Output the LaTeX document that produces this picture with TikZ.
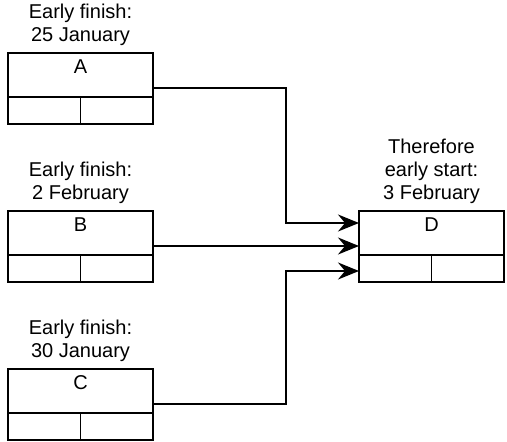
\documentclass[tikz,border=0pt]{standalone}
\usepackage{fontspec}
\setmainfont{Liberation Sans}
\usetikzlibrary{positioning,calc,arrows.meta}

\begin{document}
\begin{tikzpicture}[x=1pt,y=-1pt,
  line width=1.9pt,font=\fontsize{20}{23}\selectfont,
  link/.style={-{Stealth[length=21pt,width=17pt,inset=7pt]}},
  task node/.style={draw,anchor=north west,minimum width=145pt,inner sep=0pt,
    outer sep=0pt,text height=20pt,text depth=24pt},
  cell node/.style={draw,minimum width=72.5pt,minimum height=27pt,inner sep=0pt,
    outer sep=0pt},
  date node/.style={align=center,inner sep=0pt}]

  \useasboundingbox (0,0) rectangle (507,442);

  % activities
  \node[task node] (A) at (8,53) {A};
  \node[task node] (B) at (8,211) {B};
  \node[task node] (C) at (8,369) {C};
  \node[task node] (D) at (359,211) {D};
  \foreach \t in {A,B,C,D}{
    \node[cell node,below right=0pt of \t.south west] (\t1) {};
    \node[cell node,below left=0pt of \t.south east] (\t2) {};
  }

  % dates
  \node[date node,above=6pt of A.north] (la) {Early finish:\\25 January};
  \node[date node,above=6pt of B.north] (lb) {Early finish:\\2 February};
  \node[date node,above=6pt of C.north] (lc) {Early finish:\\30 January};
  \node[date node,above=6pt of D.north] (ld) {Therefore\\early start:\\3 February};

  % links
  \coordinate (bend) at (286,0);
  \coordinate (Aout) at ($(A.south east)+(0pt,9pt)$);
  \coordinate (Bout) at ($(B.south east)+(0pt,9pt)$);
  \coordinate (Cout) at ($(C.south east)+(0pt,9pt)$);
  \coordinate (Din1) at ($(D.south west)+(0pt,32pt)$);
  \coordinate (Din2) at ($(D.south west)+(0pt,9pt)$);
  \coordinate (Din3) at ($(D.south west)+(0pt,-16pt)$);
  \draw[link] (Aout) -| (bend |- Din1) -- (Din1);
  \draw[link] (Bout) -- (Din2);
  \draw[link] (Cout) -| (bend |- Din3) -- (Din3);
\end{tikzpicture}
\end{document}
